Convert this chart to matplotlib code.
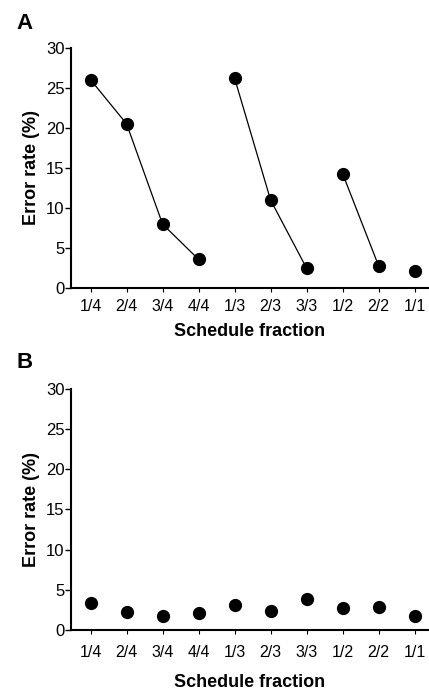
import numpy as np
import matplotlib.pyplot as plt

plt.rcParams['font.family'] = ['Liberation Sans', 'DejaVu Sans']

# schedule fractions on the x axis
fractions = ['1/4', '2/4', '3/4', '4/4', '1/3', '2/3', '3/3', '1/2', '2/2', '1/1']
xpos = np.arange(1, len(fractions) + 1)

# panel A: error rate (%), lines join points of the same schedule
err_a = [26.0, 20.5, 8.0, 3.6, 26.2, 11.0, 2.5, 14.3, 2.8, 2.1]
groups_a = [(0, 4), (4, 7), (7, 9), (9, 10)]

# panel B: error rate (%), points only
err_b = [3.3, 2.2, 1.8, 2.1, 3.1, 2.4, 3.8, 2.7, 2.8, 1.8]

fig = plt.figure(figsize=(4.29, 6.90), dpi=100)
ax_a = fig.add_axes([0.165, 0.5822, 0.835, 0.3487])
ax_b = fig.add_axes([0.165, 0.0870, 0.835, 0.3493])


def style(ax, pad):
    ax.set_xlim(0.45, 10.4)
    ax.set_ylim(0, 30)
    ax.set_yticks([0, 5, 10, 15, 20, 25, 30])
    ax.set_xticks(xpos)
    ax.set_xticklabels(fractions)
    for s in ['top', 'right']:
        ax.spines[s].set_visible(False)
    for s in ['left', 'bottom']:
        ax.spines[s].set_linewidth(1.5)
    ax.tick_params(axis='y', length=4, width=1, pad=0.5, labelsize=12)
    ax.tick_params(axis='x', length=3, width=0.8, pad=pad, labelsize=11.5)
    ax.set_ylabel('Error rate (%)', fontsize=13, fontweight='bold', labelpad=4)
    ax.set_xlabel('Schedule fraction', fontsize=13, fontweight='bold', labelpad=6)


for a, b in groups_a:
    ax_a.plot(xpos[a:b], err_a[a:b], color='black', lw=0.9, marker='o',
              markersize=8.5, clip_on=False)
style(ax_a, 5)

ax_b.plot(xpos, err_b, 'o', color='black', markersize=8.5, clip_on=False)
style(ax_b, 8)
ax_b.xaxis.labelpad = 10

fig.text(0.038, 0.966, 'A', fontsize=16, fontweight='bold', va='center')
fig.text(0.038, 0.474, 'B', fontsize=16, fontweight='bold', va='center')

fig.savefig('out.png', dpi=100)
